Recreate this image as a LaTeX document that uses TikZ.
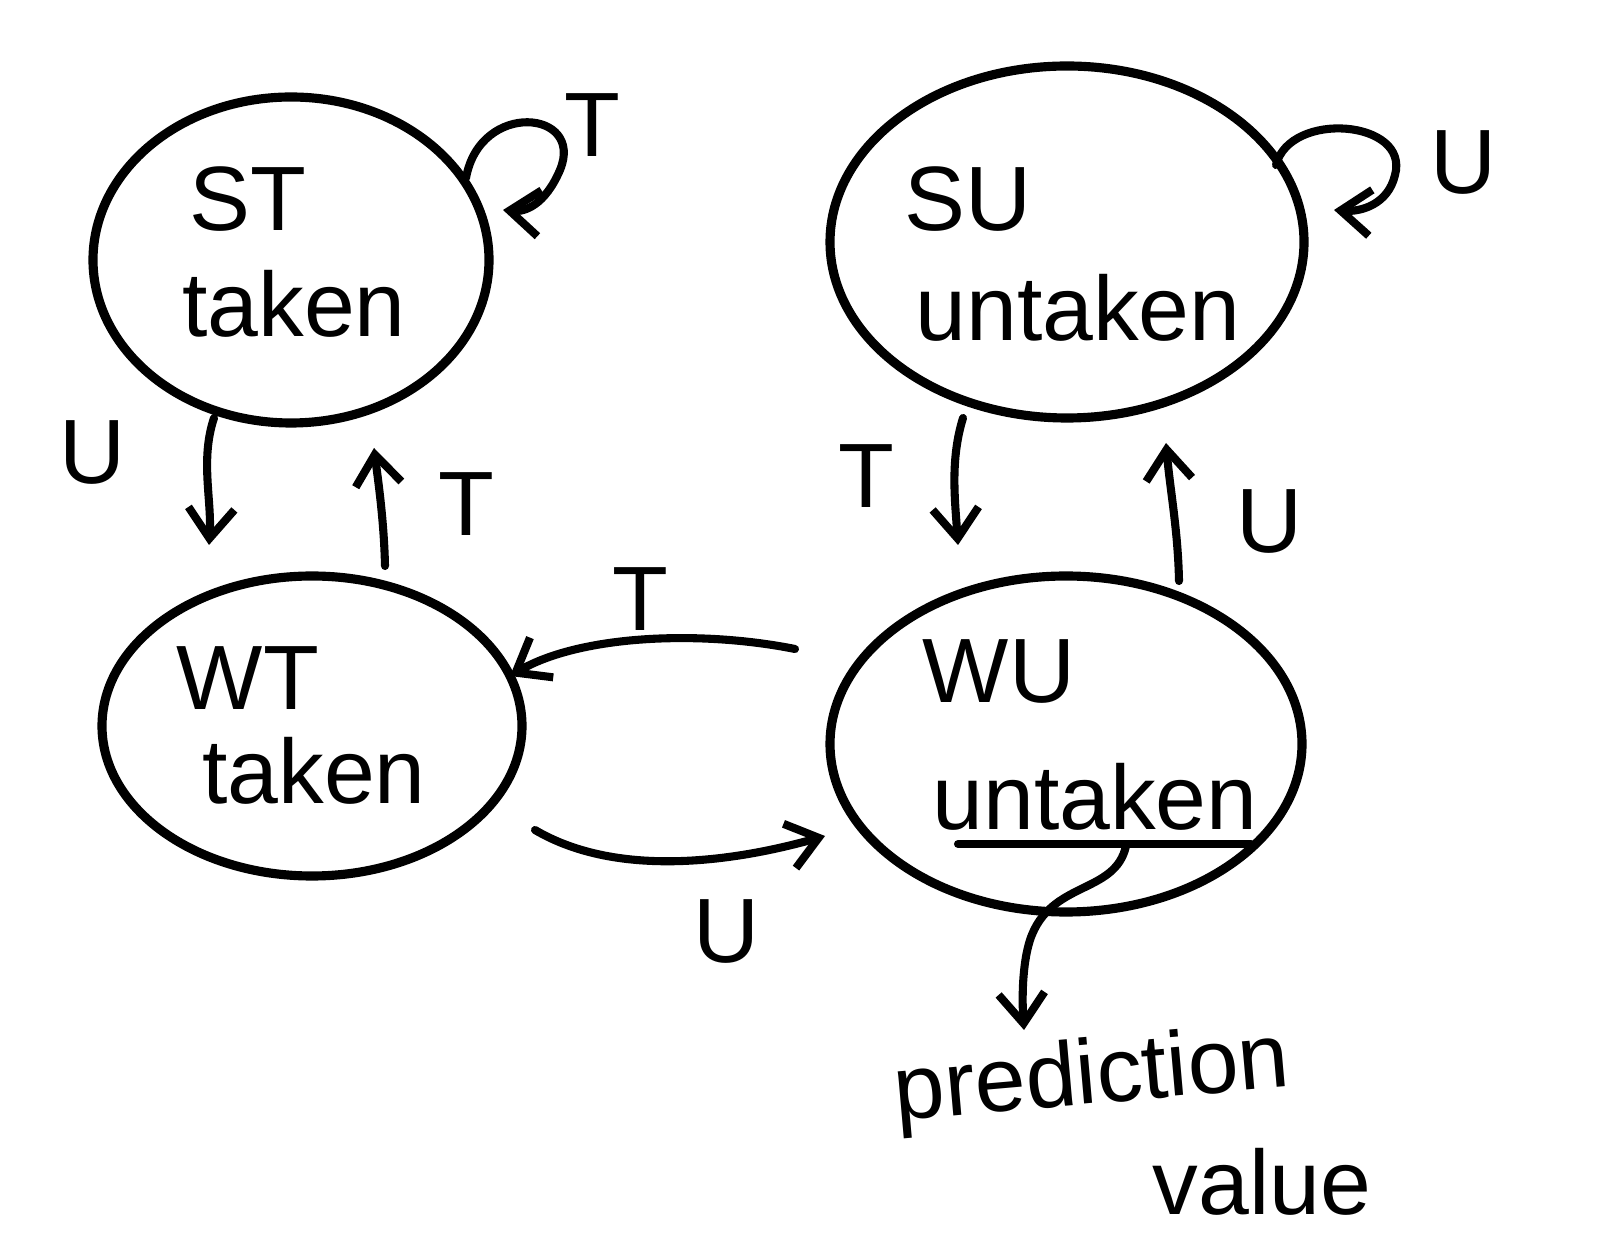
\documentclass[tikz,border=0pt]{standalone}
\usepackage{fontspec}
\setmainfont{Liberation Sans}
\usetikzlibrary{shapes.geometric,arrows.meta,calc}
\begin{document}
\begin{tikzpicture}[x=0.1mm,y=-0.1mm,
  state/.style={draw,ellipse,line width=2.6pt,inner sep=0pt},
  lbl/.style={font=\fontsize{26}{30}\selectfont},
  edge/.style={line width=2.3pt,line cap=round,-{Straight Barb[length=3mm,width=4.6mm,line width=2.3pt]}},
  plain/.style={line width=2.3pt,line cap=round}]
\useasboundingbox (0,0) rectangle (1598,1244);
% states
\node[state,minimum width=39.6mm,minimum height=32.6mm] (ST) at (291,260) {};
\node[state,minimum width=47.4mm,minimum height=35.2mm] (SU) at (1067,242) {};
\node[state,minimum width=42mm,minimum height=30mm] (WT) at (312,726) {};
\node[state,minimum width=47.2mm,minimum height=33.6mm] (WU) at (1066,744) {};
% texts
\node[lbl] (STa) at (248,199) {ST};
\node[lbl] (STb) at (294,304) {taken};
\node[lbl] (SUa) at (968,199) {SU};
\node[lbl] (SUb) at (1078,308) {untaken};
\node[lbl] (WTa) at (248,678) {WT};
\node[lbl] (WTb) at (314,771) {taken};
\node[lbl] (WUa) at (999,672) {WU};
\node[lbl] (WUb) at (1095,797) {untaken};
\coordinate (ul1) at (958,844);
\coordinate (ul2) at (1251,844);
\draw[plain] (ul1) -- (ul2);
% self loops
\coordinate (stl1) at (466,178);
\coordinate (stl2) at (503,210);
\draw[edge] (stl1) .. controls (480,100) and (585,110) .. (560,170) .. controls (545,205) and (525,212) .. (stl2);
\node[lbl] (lT1) at (592,125) {T};
\coordinate (sul1) at (1276,165);
\coordinate (sul2) at (1334,210);
\draw[edge] (sul1) .. controls (1290,110) and (1410,120) .. (1395,175) .. controls (1388,205) and (1360,212) .. (sul2);
\node[lbl] (lU1) at (1463,163) {U};
% vertical arrows
\coordinate (a1) at (214,418);
\coordinate (a2) at (209,545);
\draw[edge] (a1) .. controls (200,460) and (212,500) .. (a2);
\node[lbl] (lU2) at (92,453) {U};
\coordinate (b1) at (385,566);
\coordinate (b2) at (374,448);
\draw[edge] (b1) .. controls (384,520) and (378,480) .. (b2);
\node[lbl] (lT2) at (466,504) {T};
\coordinate (c1) at (963,418);
\coordinate (c2) at (958,545);
\draw[edge] (c1) .. controls (950,460) and (955,500) .. (c2);
\node[lbl] (lT3) at (866,476) {T};
\coordinate (d1) at (1179,581);
\coordinate (d2) at (1166,443);
\draw[edge] (d1) .. controls (1178,530) and (1170,490) .. (d2);
\node[lbl] (lU3) at (1269,522) {U};
% horizontal arrows
\coordinate (e1) at (795,649);
\coordinate (e2) at (510,676);
\draw[edge] (e1) .. controls (700,630) and (580,635) .. (e2);
\node[lbl] (lT4) at (640,599) {T};
\coordinate (f1) at (535,830);
\coordinate (f2) at (825,836);
\draw[edge] (f1) .. controls (620,880) and (740,860) .. (f2);
\node[lbl] (lU4) at (726,932) {U};
% prediction
\coordinate (g1) at (1126,846);
\coordinate (g2) at (1024,1030);
\draw[edge] (g1) .. controls (1115,895) and (1050,880) .. (1030,940) .. controls (1022,965) and (1022,1000) .. (g2);
\node[lbl,rotate=5,inner sep=0pt] (pr) at (1092,1080) {prediction};
\node[lbl,inner sep=0pt] (va) at (1262,1182) {value};
\end{tikzpicture}
\end{document}
